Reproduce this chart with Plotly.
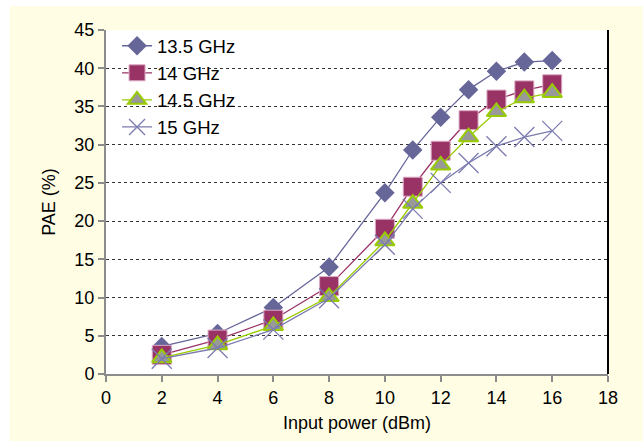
import plotly.graph_objects as go

x_power = [2, 4, 6, 8, 10, 11, 12, 13, 14, 15, 16]
pae_13_5 = [3.6, 5.3, 8.7, 14.0, 23.7, 29.3, 33.6, 37.2, 39.6, 40.8, 41.0]
pae_14 = [2.5, 4.5, 7.1, 11.5, 19.0, 24.5, 29.2, 33.2, 35.9, 37.1, 37.9]
pae_14_5 = [2.1, 3.8, 6.3, 10.1, 17.4, 22.3, 27.3, 31.0, 34.3, 36.1, 36.8]
pae_15 = [2.0, 3.4, 5.8, 9.9, 16.9, 21.6, 25.0, 27.6, 29.8, 31.0, 31.8]
series_names = ["13.5 GHz", "14 GHz", "14.5 GHz", "15 GHz"]
x_ticks = [0, 2, 4, 6, 8, 10, 12, 14, 16, 18]
y_ticks = [0, 5, 10, 15, 20, 25, 30, 35, 40, 45]

FONT = "Liberation Sans, Arial, sans-serif"

fig = go.Figure()
fig.add_trace(go.Scatter(
    x=x_power, y=pae_13_5, name=series_names[0], mode="lines+markers",
    line=dict(color="#666699", width=1.3),
    marker=dict(symbol="diamond", size=15, color="#666699", line=dict(width=0))))
fig.add_trace(go.Scatter(
    x=x_power, y=pae_14, name=series_names[1], mode="lines+markers",
    line=dict(color="#993366", width=1.3),
    marker=dict(symbol="square", size=19, color="#993366", line=dict(color="#dcaac4", width=1))))
fig.add_trace(go.Scatter(
    x=x_power, y=pae_14_5, name=series_names[2], mode="lines+markers",
    line=dict(color="#99cc00", width=1.3),
    marker=dict(symbol="triangle-up", size=17, color="#999999", line=dict(color="#99cc00", width=2))))
fig.add_trace(go.Scatter(
    x=x_power, y=pae_15, name=series_names[3], mode="lines+markers",
    line=dict(color="#7b7bb0", width=1.3),
    marker=dict(symbol="x-thin", size=20, color="#7b7bb0", line=dict(color="#7b7bb0", width=1.3))))

# white strips outside yellow panel
fig.add_shape(type="rect", xref="paper", yref="paper", x0=-0.3, x1=1.2, y0=(374 - 6) / 344, y1=1.2,
              fillcolor="white", line=dict(width=0), layer="above")
fig.add_shape(type="rect", xref="paper", yref="paper", x0=-0.3, x1=(10 - 106) / 502, y0=-0.3, y1=1.2,
              fillcolor="white", line=dict(width=0), layer="above")
# right border
fig.add_shape(type="line", xref="paper", yref="paper", x0=1, x1=1, y0=0, y1=1,
              line=dict(color="black", width=2), layer="above")

fig.update_layout(
    width=643, height=441,
    margin=dict(l=106, r=35, t=30, b=67),
    paper_bgcolor="#fffde3",
    plot_bgcolor="white",
    font=dict(family=FONT, size=18, color="black"),
    showlegend=True,
    legend=dict(x=0.022, y=1.008, xanchor="left", yanchor="top", bgcolor="rgba(0,0,0,0)",
                font=dict(size=18.5), itemwidth=30),
    xaxis=dict(range=[0, 18], tickvals=x_ticks, showgrid=False, zeroline=False,
               showline=True, linecolor="#8c8c8c", linewidth=2,
               ticks="outside", ticklen=6, tickwidth=1.5, tickcolor="#8c8c8c",
               tickfont=dict(size=18), title=dict(text="Input power (dBm)", standoff=10, font=dict(size=18))),
    yaxis=dict(range=[0, 45], tickvals=y_ticks, showgrid=True, gridcolor="#333333", griddash="dot",
               gridwidth=1, zeroline=False,
               showline=True, linecolor="#8c8c8c", linewidth=2,
               ticks="outside", ticklen=6, tickwidth=1.5, tickcolor="#8c8c8c",
               tickfont=dict(size=18), title=dict(text="PAE (%)", standoff=14, font=dict(size=18))),
)

fig.write_html("out.html")
